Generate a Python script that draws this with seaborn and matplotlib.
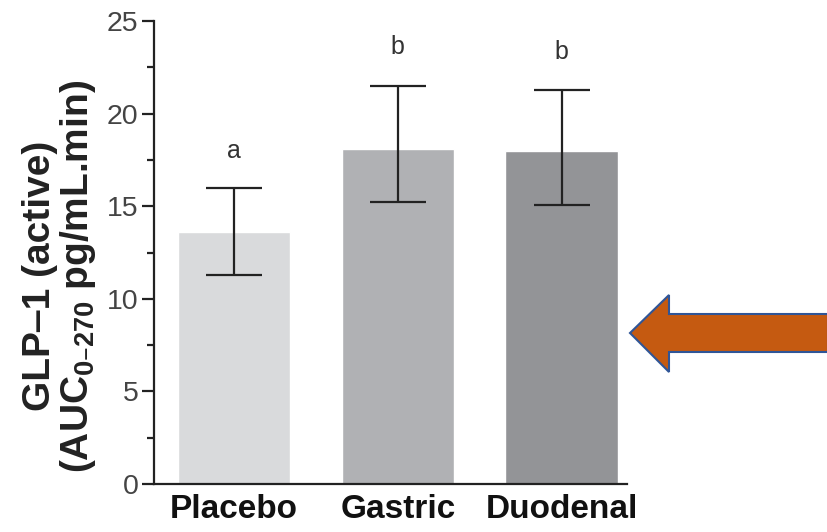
import matplotlib
matplotlib.use("Agg")
import matplotlib.pyplot as plt
import seaborn as sns
import pandas as pd
from matplotlib.patches import Polygon
from matplotlib.ticker import MultipleLocator

groups = ["Placebo", "Gastric", "Duodenal"]
means = [13.6, 18.1, 18.0]
err_low = [11.3, 15.2, 15.05]
err_high = [16.0, 21.5, 21.25]
letters = ["a", "b", "b"]
letter_y = [18.0, 23.6, 23.3]
bar_colors = ["#d9dadc", "#b0b1b4", "#939497"]

sns.set_theme(style="ticks")
plt.rcParams["font.family"] = ["Liberation Sans", "DejaVu Sans"]

df = pd.DataFrame({"group": groups, "value": means})

W, H = 828, 532
fig = plt.figure(figsize=(W/100, H/100), dpi=100)
ax = fig.add_axes([154/W, 1-484/H, (627-154)/W, (484-21)/H])

sns.barplot(data=df, x="group", y="value", hue="group", palette=bar_colors,
            order=groups, errorbar=None, width=0.685, legend=False, ax=ax,
            saturation=1)

xs = list(range(len(groups)))
lower = [m - l for m, l in zip(means, err_low)]
upper = [h - m for m, h in zip(means, err_high)]
ax.errorbar(xs, means, yerr=[lower, upper], fmt="none", ecolor="#222222",
            elinewidth=1.6, capsize=20, capthick=1.6, zorder=5)

for x, t, y in zip(xs, letters, letter_y):
    ax.text(x, y, t, ha="center", va="center", fontsize=18, color="#333333")

ax.set_xlim(-0.49, 2.4)
ax.set_ylim(0, 25)
ax.yaxis.set_major_locator(MultipleLocator(5))
ax.yaxis.set_minor_locator(MultipleLocator(2.5))
sns.despine(ax=ax)
for s in ["left", "bottom"]:
    ax.spines[s].set_linewidth(1.6)
    ax.spines[s].set_color("#222222")
ax.tick_params(axis="y", which="major", length=9, width=1.6, color="#222222",
               labelsize=20.5, labelcolor="#444444", pad=2)
ax.tick_params(axis="y", which="minor", length=5, width=1.6, color="#222222")
ax.tick_params(axis="x", length=0, labelsize=24, pad=7)
for lab in ax.get_xticklabels():
    lab.set_fontweight("bold")
    lab.set_color("#111111")
ax.set_xlabel("")
ax.set_ylabel("")
fig.text(60/W, 1-276/H,
         "GLP\u20121 (active)\n(AUC$_{\\mathregular{0\u2013270}}$ pg/mL.min)",
         rotation=90, ha="center", va="center", multialignment="center",
         fontsize=28, fontweight="bold", color="#222222", linespacing=1.0)

# orange arrow (figure pixel coordinates)
pts = [(630, 333), (669, 295), (669, 314), (828, 314), (828, 352),
       (669, 352), (669, 372)]
arrow = Polygon([(x/W, 1-y/H) for x, y in pts], closed=True,
                transform=fig.transFigure, facecolor="#c55a11",
                edgecolor="#2f5597", linewidth=1.5, clip_on=False)
fig.patches.append(arrow)

fig.savefig("out.png", dpi=100)
